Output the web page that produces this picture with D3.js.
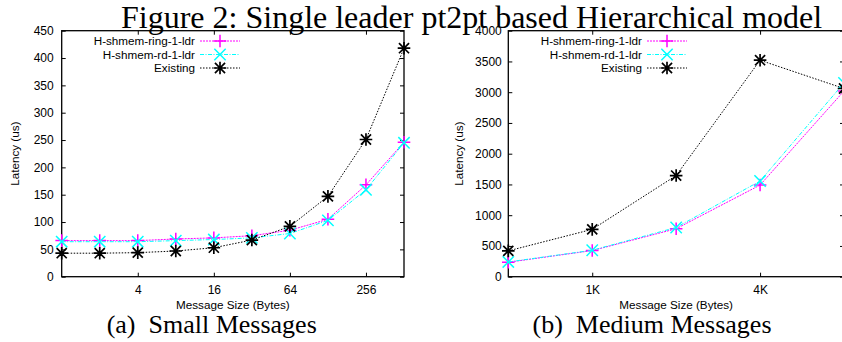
<!DOCTYPE html>
<html>
<head>
<meta charset="utf-8">
<script src="https://cdn.jsdelivr.net/npm/d3@7"></script>
<style>
html,body{margin:0;padding:0;background:#fff;overflow:hidden;}
svg{display:block;}
text{font-family:"Liberation Sans",Arial,sans-serif;fill:#000;}
</style>
</head>
<body>
<svg id="chart" width="842" height="342"></svg>
<script>
// ---------------- DATA ----------------
const seriesNames = ["H-shmem-ring-1-ldr", "H-shmem-rd-1-ldr", "Existing"];

// (a) Small messages
const sizesSmall = [1, 2, 4, 8, 16, 32, 64, 128, 256, 512];
const ringSmall = [66, 66, 66, 69, 71, 75, 85, 105, 168, 246];
const rdSmall = [64, 64, 64, 66, 68, 71, 79, 103, 159, 245];
const existingSmall = [43, 43, 44, 47, 53, 67, 92, 147, 251, 418];
const xTicksSmall = [4, 16, 64, 256];
const xTickLabelsSmall = ["4", "16", "64", "256"];
const yTicksSmall = [0, 50, 100, 150, 200, 250, 300, 350, 400, 450];

// (b) Medium messages
const sizesMedium = [512, 1024, 2048, 4096, 8192];
const ringMedium = [235, 425, 780, 1490, 3020];
const rdMedium = [240, 430, 800, 1556, 3150];
const existingMedium = [420, 770, 1645, 3520, 3060];
const xTicksMedium = [1024, 4096];
const xTickLabelsMedium = ["1K", "4K"];
const yTicksMedium = [0, 500, 1000, 1500, 2000, 2500, 3000, 3500, 4000];

const figureTitle = "Figure 2: Single leader pt2pt based Hierarchical model";
const captionSmall = "(a)\u00a0\u00a0Small Messages";
const captionMedium = "(b)\u00a0\u00a0Medium Messages";
const xAxisTitle = "Message Size (Bytes)";
const yAxisTitle = "Latency (us)";

// ---------------- STYLES ----------------
const styles = [
  {color: "#ff00ff", dash: "2,1", marker: "plus"},
  {color: "#00ffff", dash: "4,1.5,1,1.5", marker: "cross"},
  {color: "#000000", dash: "1.5,1.5", marker: "star"}
];

function markerPath(type, s) {
  const p = d3.path();
  if (type === "plus" || type === "star") {
    p.moveTo(-s, 0); p.lineTo(s, 0);
    p.moveTo(0, -s); p.lineTo(0, s);
  }
  if (type === "cross" || type === "star") {
    const c = type === "star" ? s * 0.8 : s * 0.9;
    p.moveTo(-c, -c); p.lineTo(c, c);
    p.moveTo(-c, c); p.lineTo(c, -c);
  }
  return p.toString();
}

const svg = d3.select("#chart");
const sansFont = '"Liberation Sans",Arial,sans-serif';
const serifFont = '"Liberation Serif","Times New Roman",serif';

function drawPanel(cfg) {
  const g = svg.append("g");
  const x = d3.scaleLog().base(2).domain(cfg.xDomain).range([cfg.left, cfg.right]);
  const y = d3.scaleLinear().domain(cfg.yDomain).range([cfg.bottom, cfg.top]);
  const tickLen = 4;

  const bottomAxis = d3.axisBottom(x).tickValues(cfg.xTicks)
    .tickFormat((d, i) => cfg.xTickLabels[i]).tickSizeInner(-tickLen).tickSizeOuter(0).tickPadding(9);
  const gb = g.append("g").attr("transform", `translate(0,${cfg.bottom})`).call(bottomAxis);
  const topAxis = d3.axisTop(x).tickValues(cfg.xTicks).tickFormat("").tickSizeInner(-tickLen).tickSizeOuter(0);
  const gt = g.append("g").attr("transform", `translate(0,${cfg.top})`).call(topAxis);
  const leftAxis = d3.axisLeft(y).tickValues(cfg.yTicks).tickFormat(d3.format("d"))
    .tickSizeInner(-tickLen).tickSizeOuter(0).tickPadding(cfg.yPad);
  const gl = g.append("g").attr("transform", `translate(${cfg.left},0)`).call(leftAxis);
  const rightAxis = d3.axisRight(y).tickValues(cfg.yTicks).tickFormat("").tickSizeInner(-tickLen).tickSizeOuter(0);
  const gr = g.append("g").attr("transform", `translate(${cfg.right},0)`).call(rightAxis);
  [gb, gt, gl, gr].forEach(a => {
    a.select(".domain").remove();
    a.selectAll("line").attr("stroke", "#000").attr("stroke-width", 1);
    a.selectAll("text").style("font-family", sansFont)
      .style("font-size", "12px").attr("fill", "#000");
  });

  g.append("rect").attr("x", cfg.left).attr("y", cfg.top)
    .attr("width", cfg.right - cfg.left).attr("height", cfg.bottom - cfg.top)
    .attr("fill", "none").attr("stroke", "#000").attr("stroke-width", 1.3);

  g.append("text").attr("x", (cfg.left + cfg.right) / 2).attr("y", 309)
    .attr("text-anchor", "middle").style("font-size", "11.7px").text(xAxisTitle);
  g.append("text").attr("transform", `translate(${cfg.yTitleX},${(cfg.top + cfg.bottom) / 2}) rotate(-90)`)
    .attr("text-anchor", "middle").style("font-size", "11.7px").text(yAxisTitle);

  const line = d3.line().x(d => x(d[0])).y(d => y(d[1]));
  cfg.series.forEach((vals, si) => {
    const st = styles[si];
    const pts = cfg.sizes.map((s, i) => [s, vals[i]]);
    g.append("path").datum(pts).attr("d", line).attr("fill", "none")
      .attr("stroke", st.color).attr("stroke-width", 1).attr("stroke-dasharray", st.dash);
    g.selectAll(null).data(pts).enter().append("path")
      .attr("transform", d => `translate(${x(d[0])},${y(d[1])})`)
      .attr("d", markerPath(st.marker, 6.3))
      .attr("fill", "none").attr("stroke", st.color).attr("stroke-width", st.marker === "star" ? 1.7 : 1.5);
  });

  const rows = [41, 54.5, 68];
  seriesNames.forEach((name, si) => {
    const st = styles[si];
    const yy = rows[si];
    g.append("text").attr("x", cfg.legX).attr("y", yy).attr("dy", "0.35em")
      .attr("text-anchor", "end").style("font-size", "11.7px").text(name);
    g.append("line").attr("x1", cfg.legX + 5).attr("x2", cfg.legX + 45)
      .attr("y1", yy).attr("y2", yy).attr("stroke", st.color).attr("stroke-width", 1)
      .attr("stroke-dasharray", st.dash);
    g.append("path").attr("transform", `translate(${cfg.legX + 25},${yy})`)
      .attr("d", markerPath(st.marker, 6.3)).attr("fill", "none")
      .attr("stroke", st.color).attr("stroke-width", st.marker === "star" ? 1.7 : 1.5);
  });

  g.append("text").attr("x", cfg.capX).attr("y", 333)
    .attr("text-anchor", "middle").style("font-size", "26px")
    .style("font-family", serifFont).text(cfg.caption);
}

drawPanel({
  left: 61.7, right: 404, top: 30.7, bottom: 276.7,
  xDomain: [1, 512], yDomain: [0, 450],
  xTicks: xTicksSmall, xTickLabels: xTickLabelsSmall, yTicks: yTicksSmall,
  sizes: sizesSmall, series: [ringSmall, rdSmall, existingSmall],
  yPad: 8, yTitleX: 19, legX: 195, caption: captionSmall, capX: 211.7
});

drawPanel({
  left: 508.3, right: 844, top: 30.7, bottom: 276.7,
  xDomain: [512, 8192], yDomain: [0, 4000],
  xTicks: xTicksMedium, xTickLabels: xTickLabelsMedium, yTicks: yTicksMedium,
  sizes: sizesMedium, series: [ringMedium, rdMedium, existingMedium],
  yPad: 6.5, yTitleX: 463, legX: 642, caption: captionMedium, capX: 652
});

svg.append("text").attr("x", 121).attr("y", 28.3)
  .style("font-family", serifFont)
  .style("font-size", "32px").text(figureTitle);
</script>
</body>
</html>
